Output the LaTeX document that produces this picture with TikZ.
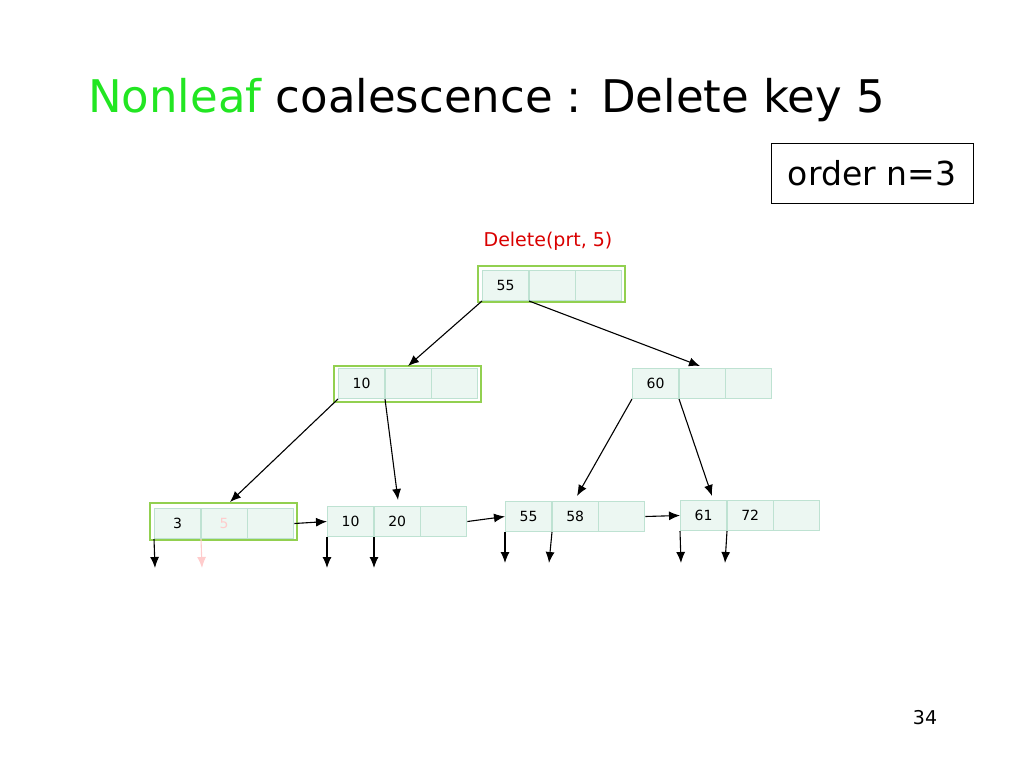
\documentclass[tikz,border=0pt]{standalone}
\usepackage{fontspec}
\usetikzlibrary{arrows.meta}
\setmainfont{DejaVu Sans}
\definecolor{cellfill}{RGB}{236,247,242}
\definecolor{cellline}{RGB}{190,226,210}
\definecolor{grn}{RGB}{146,208,80}
\definecolor{ttl}{RGB}{34,230,34}
\begin{document}
\begin{tikzpicture}[x=1pt,y=-1pt,
  cell/.style={draw=cellline,fill=cellfill,line width=1pt,minimum width=46pt,minimum height=30pt,inner sep=0pt,anchor=north west,font=\fontsize{14}{14}\selectfont},
  hl/.style={draw=grn,line width=1.2pt},
  arr/.style={-{Latex[length=11pt,width=9pt]},line width=1.1pt},
  lk/.style={-{Latex[length=11pt,width=9pt]},line width=1.1pt}]
\useasboundingbox (0,0) rectangle (1024,768);
\newcommand\bnode[6]{%
 \node[cell] (#1a) at (#2,#3) {#4};
 \node[cell] (#1b) at (#2+46.7,#3) {#5};
 \node[cell] (#1c) at (#2+93.4,#3) {#6};}
\draw[hl] (478,266) rectangle (625,302);
\draw[hl] (334,366) rectangle (481,402);
\draw[hl] (150,503) rectangle (297,540);
\bnode{r}{482}{270}{55}{}{}
\bnode{m}{338}{368}{10}{}{}
\bnode{s}{632}{368}{60}{}{}
\bnode{l}{154}{508}{3}{\textcolor{red!20}{5}}{}
\bnode{k}{327}{506}{10}{20}{}
\bnode{p}{505}{501}{55}{58}{}
\bnode{q}{680}{500}{61}{72}{}
\node[anchor=base west,inner sep=0pt,font=\fontsize{45}{45}\selectfont] (t) at (88,112) {\textcolor{ttl}{Nonleaf} coalescence : Delete key 5};
\node[draw,line width=1pt,minimum width=202pt,minimum height=60pt,inner sep=0pt,font=\fontsize{33}{33}\selectfont] (o) at (872,173) {order n=3};
\node[text=red!85!black,font=\fontsize{19}{19}\selectfont,inner sep=0pt] (d) at (548,241) {Delete(prt, 5)};
\node[font=\fontsize{19}{19}\selectfont,inner sep=0pt] (pg) at (925,718) {34};
\coordinate (r1) at (408,366); \coordinate (r2) at (700,366);
\coordinate (m1) at (230,502); \coordinate (m2) at (398,500);
\coordinate (s1) at (577,496); \coordinate (s2) at (712,496);
\draw[arr] (ra.south west) -- (r1);
\draw[arr] (ra.south east) -- (r2);
\draw[arr] (ma.south west) -- (m1);
\draw[arr] (ma.south east) -- (m2);
\draw[arr] (sa.south west) -- (s1);
\draw[arr] (sa.south east) -- (s2);
\draw[lk] (lc.east) -- (ka.west);
\draw[lk] (kc.east) -- (pa.west);
\draw[lk] (pc.east) -- (qa.west);
\coordinate (l1) at (155,568); \coordinate (l2) at (202,568);
\coordinate (k1) at (327,568); \coordinate (k2) at (374,568);
\coordinate (p1) at (505,563); \coordinate (p2) at (549,563);
\coordinate (q1) at (681,563); \coordinate (q2) at (725,563);
\draw[arr] (la.south west) -- (l1);
\draw[arr,red!20] (la.south east) -- (l2);
\draw[arr] (ka.south west) -- (k1);
\draw[arr] (ka.south east) -- (k2);
\draw[arr] (pa.south west) -- (p1);
\draw[arr] (pa.south east) -- (p2);
\draw[arr] (qa.south west) -- (q1);
\draw[arr] (qa.south east) -- (q2);
\end{tikzpicture}
\end{document}
